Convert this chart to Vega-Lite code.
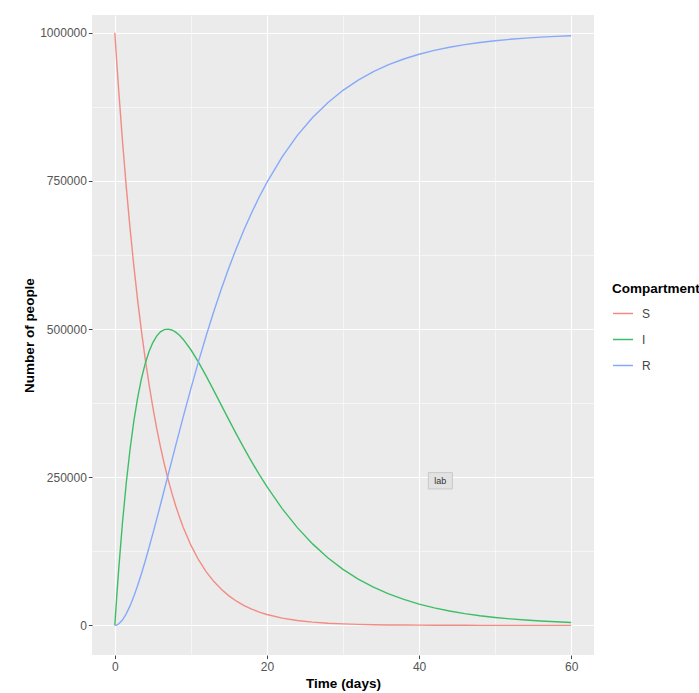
{
  "$schema": "https://vega.github.io/schema/vega-lite/v6.json",
  "width": 502,
  "height": 640,
  "autosize": {"type": "none"},
  "padding": {"left": 92, "top": 15, "right": 105, "bottom": 38},
  "background": "white",
  "config": {
    "view": {"fill": "#EBEBEB", "stroke": null},
    "font": "Liberation Sans",
    "axis": {
      "domain": false,
      "gridColor": "white",
      "labelColor": "#555555",
      "labelFontSize": 12,
      "labelFont": "Liberation Sans",
      "tickColor": "#444444",
      "tickSize": 3.6,
      "tickWidth": 1,
      "titleFont": "Liberation Sans",
      "titleFontSize": 13.5,
      "titleFontWeight": "bold",
      "titleColor": "black"
    },
    "legend": {
      "orient": "none",
      "legendX": 520,
      "legendY": 267,
      "padding": 0,
      "titleFont": "Liberation Sans",
      "titleFontSize": 13.5,
      "titleFontWeight": "bold",
      "titleColor": "black",
      "titlePadding": 7,
      "labelFont": "Liberation Sans",
      "labelFontSize": 12,
      "labelColor": "#444444",
      "labelOffset": 8,
      "symbolType": "stroke",
      "symbolSize": 400,
      "symbolStrokeWidth": 1.5,
      "rowPadding": 9
    }
  },
  "layer": [
    {
      "data": {
        "values": [
          {"time": 0, "S": 1000000, "I": 0, "R": 0},
          {"time": 0.25, "S": 951229, "I": 48161, "R": 610},
          {"time": 0.5, "S": 904837, "I": 92784, "R": 2379},
          {"time": 1, "S": 818731, "I": 172213, "R": 9056},
          {"time": 1.5, "S": 740818, "I": 239780, "R": 19402},
          {"time": 2, "S": 670320, "I": 296822, "R": 32858},
          {"time": 2.5, "S": 606531, "I": 344540, "R": 48929},
          {"time": 3, "S": 548812, "I": 384013, "R": 67175},
          {"time": 3.5, "S": 496585, "I": 416206, "R": 87209},
          {"time": 4, "S": 449329, "I": 441982, "R": 108689},
          {"time": 4.5, "S": 406570, "I": 462117, "R": 131313},
          {"time": 5, "S": 367879, "I": 477303, "R": 154818},
          {"time": 5.5, "S": 332871, "I": 488158, "R": 178971},
          {"time": 6, "S": 301194, "I": 495235, "R": 203571},
          {"time": 6.5, "S": 272532, "I": 499028, "R": 228440},
          {"time": 7, "S": 246597, "I": 499976, "R": 253427},
          {"time": 7.5, "S": 223130, "I": 498473, "R": 278397},
          {"time": 8, "S": 201897, "I": 494864, "R": 303239},
          {"time": 8.5, "S": 182684, "I": 489462, "R": 327854},
          {"time": 9, "S": 165299, "I": 482542, "R": 352159},
          {"time": 10, "S": 135335, "I": 465088, "R": 399577},
          {"time": 11, "S": 110803, "I": 444136, "R": 445061},
          {"time": 12, "S": 90718, "I": 420952, "R": 488330},
          {"time": 13, "S": 74274, "I": 396516, "R": 529210},
          {"time": 14, "S": 60810, "I": 371574, "R": 567616},
          {"time": 15, "S": 49787, "I": 346686, "R": 603527},
          {"time": 16, "S": 40762, "I": 322270, "R": 636968},
          {"time": 17, "S": 33373, "I": 298622, "R": 668005},
          {"time": 18, "S": 27324, "I": 275950, "R": 696726},
          {"time": 19, "S": 22371, "I": 254396, "R": 723233},
          {"time": 20, "S": 18316, "I": 234039, "R": 747645},
          {"time": 22, "S": 12277, "I": 197052, "R": 790671},
          {"time": 24, "S": 8230, "I": 164976, "R": 826794},
          {"time": 26, "S": 5517, "I": 137514, "R": 856969},
          {"time": 28, "S": 3698, "I": 114224, "R": 882078},
          {"time": 30, "S": 2479, "I": 94616, "R": 902905},
          {"time": 32, "S": 1662, "I": 78200, "R": 920138},
          {"time": 34, "S": 1114, "I": 64518, "R": 934368},
          {"time": 36, "S": 747, "I": 53154, "R": 946099},
          {"time": 38, "S": 500, "I": 43742, "R": 955758},
          {"time": 40, "S": 335, "I": 35961, "R": 963704},
          {"time": 42, "S": 225, "I": 29542, "R": 970233},
          {"time": 44, "S": 151, "I": 24252, "R": 975597},
          {"time": 46, "S": 101, "I": 19902, "R": 979997},
          {"time": 48, "S": 68, "I": 16324, "R": 983608},
          {"time": 50, "S": 45, "I": 13386, "R": 986569},
          {"time": 52, "S": 30, "I": 10974, "R": 988996},
          {"time": 54, "S": 20, "I": 8994, "R": 990986},
          {"time": 56, "S": 14, "I": 7368, "R": 992618},
          {"time": 58, "S": 9, "I": 6038, "R": 993953},
          {"time": 60, "S": 6, "I": 4946, "R": 995048}
        ]
      },
      "transform": [{"fold": ["S", "I", "R"], "as": ["Compartment", "Number"]}],
      "mark": {"type": "line", "strokeWidth": 1.4, "clip": true},
      "encoding": {
        "x": {
          "field": "time",
          "type": "quantitative",
          "scale": {"domain": [-3, 63], "nice": false, "zero": false},
          "axis": {
            "title": "Time (days)",
            "values": [0, 10, 20, 30, 40, 50, 60],
            "labelExpr": "datum.value % 20 === 0 ? datum.label : ''",
            "gridWidth": {"condition": {"test": "datum.value % 20 === 0", "value": 1.1}, "value": 0.55},
            "tickOpacity": {"condition": {"test": "datum.value % 20 === 0", "value": 1}, "value": 0},
            "labelPadding": 3,
            "titlePadding": 4
          }
        },
        "y": {
          "field": "Number",
          "type": "quantitative",
          "scale": {"domain": [-50000, 1030000], "nice": false, "zero": false},
          "axis": {
            "title": "Number of people",
            "format": "d",
            "values": [0, 125000, 250000, 375000, 500000, 625000, 750000, 875000, 1000000],
            "labelExpr": "datum.value % 250000 === 0 ? datum.label : ''",
            "gridWidth": {"condition": {"test": "datum.value % 250000 === 0", "value": 1.1}, "value": 0.55},
            "tickOpacity": {"condition": {"test": "datum.value % 250000 === 0", "value": 1}, "value": 0},
            "labelPadding": 2,
            "titlePadding": 3
          }
        },
        "color": {
          "field": "Compartment",
          "type": "nominal",
          "scale": {"domain": ["S", "I", "R"], "range": ["#F28B84", "#3DBE66", "#86A9FA"]},
          "legend": {"title": "Compartment"}
        }
      }
    },
    {
      "data": {"values": [{"time": 42.8, "Number": 244000, "label": "lab"}]},
      "layer": [
        {
          "mark": {"type": "point", "shape": "M-1,-0.68H1V0.68H-1Z", "size": 576, "filled": true, "fill": "#E2E2E2", "stroke": "#C8C8C8", "strokeWidth": 1, "opacity": 1},
          "encoding": {
            "x": {"field": "time", "type": "quantitative"},
            "y": {"field": "Number", "type": "quantitative"}
          }
        },
        {
          "mark": {"type": "text", "fontSize": 9, "color": "#333333", "font": "Liberation Sans"},
          "encoding": {
            "x": {"field": "time", "type": "quantitative"},
            "y": {"field": "Number", "type": "quantitative"},
            "text": {"field": "label"}
          }
        }
      ]
    }
  ]
}
